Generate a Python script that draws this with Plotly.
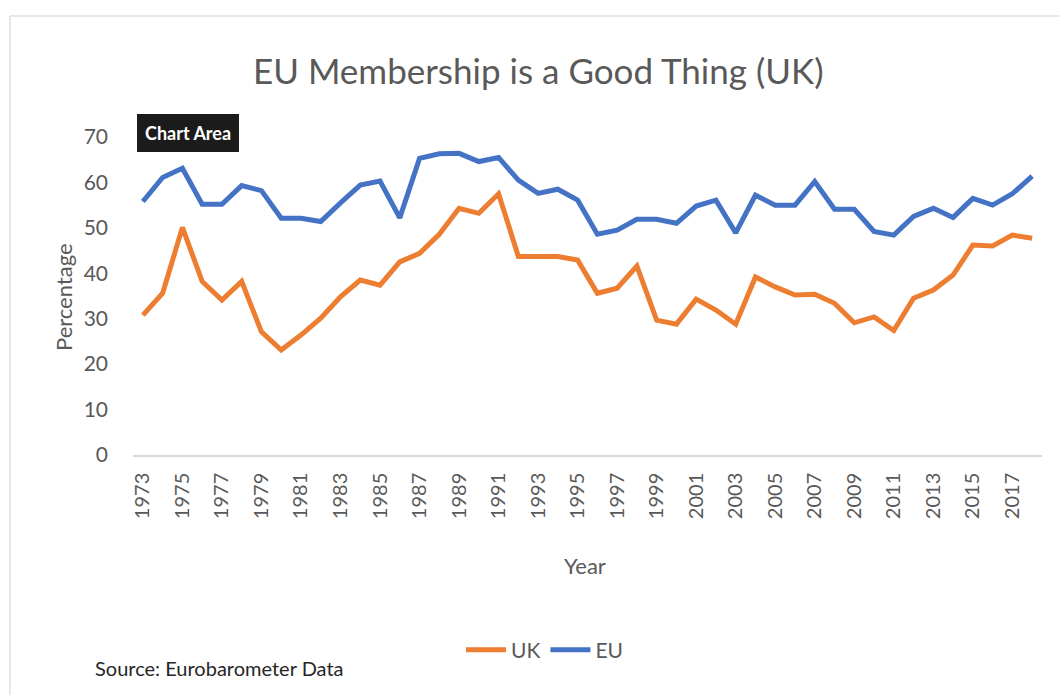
import plotly.graph_objects as go

years = list(range(1973, 2019))
uk = [30.8, 35.6, 50.1, 38.2, 34.1, 38.2, 27.1, 23.1, 26.4, 30.1,
      34.8, 38.5, 37.4, 42.5, 44.4, 48.6, 54.3, 53.2, 57.5, 43.7,
      43.7, 43.7, 42.9, 35.6, 36.7, 41.6, 29.7, 28.8, 34.3, 31.9,
      28.8, 39.2, 37.0, 35.2, 35.4, 33.4, 29.1, 30.4, 27.4, 34.5,
      36.3, 39.6, 46.2, 46.0, 48.4, 47.7]
eu = [55.8, 61.1, 63.1, 55.2, 55.2, 59.3, 58.2, 52.1, 52.1, 51.4,
      55.5, 59.4, 60.3, 52.2, 65.3, 66.3, 66.4, 64.6, 65.5, 60.5,
      57.6, 58.5, 56.1, 48.6, 49.5, 51.9, 51.9, 51.0, 54.8, 56.1,
      48.9, 57.2, 55.0, 55.0, 60.2, 54.1, 54.1, 49.2, 48.4, 52.5,
      54.3, 52.3, 56.5, 55.0, 57.5, 61.4]
x_ticks = list(range(1973, 2019, 2))
y_ticks = [0, 10, 20, 30, 40, 50, 60, 70]

W, H = 1060, 695
L, R, T, B = 133, 1042, 137, 455


def px(x):
    return (x - L) / (R - L)


def py(y):
    return (B - y) / (B - T)


FONT = "Lato"
GRAY = "#595959"

fig = go.Figure()
fig.add_trace(go.Scatter(x=years, y=uk, name="UK", mode="lines",
                         line=dict(color="#ED7D31", width=5)))
fig.add_trace(go.Scatter(x=years, y=eu, name="EU", mode="lines",
                         line=dict(color="#4472C4", width=5)))

fig.update_layout(
    width=W, height=H,
    margin=dict(l=L, r=W - R, t=T, b=H - B, pad=0),
    paper_bgcolor="white", plot_bgcolor="white",
    font=dict(family=FONT, color=GRAY),
    showlegend=True,
    legend=dict(orientation="h", x=px(545), y=py(650), xanchor="center",
                yanchor="middle", font=dict(size=21, color=GRAY),
                itemwidth=40, tracegroupgap=0),
    xaxis=dict(range=[1972.5, 2018.5], tickmode="array", tickvals=x_ticks,
               ticktext=[str(v) for v in x_ticks], tickangle=-90,
               tickfont=dict(size=20, color=GRAY), showgrid=False,
               zeroline=False, showline=True, linecolor="#d9d9d9",
               linewidth=1.5, ticks="", ticklabelstandoff=8),
    yaxis=dict(range=[0, 70], tickmode="array", tickvals=y_ticks,
               tickfont=dict(size=21, color=GRAY), showgrid=False,
               zeroline=False, showline=False, ticks="",
               ticklabelstandoff=24),
)

ann = [
    dict(text="EU Membership is a Good Thing (UK)", x=px(538), y=py(70),
         font=dict(size=35, color=GRAY)),
    dict(text="Percentage", x=px(63), y=py(297), textangle=-90,
         font=dict(size=22, color=GRAY)),
    dict(text="Year", x=px(585), y=py(565), font=dict(size=22, color=GRAY)),
    dict(text="Source: Eurobarometer Data", x=px(93), y=py(668),
         xanchor="left", font=dict(size=20, color="#262626")),
    dict(text="<b>Chart Area</b>", x=px(188), y=py(133),
         font=dict(size=18, color="white"), bgcolor="#1b1b1b",
         borderpad=7, bordercolor="#1b1b1b"),
]
for a in ann:
    a.setdefault("xanchor", "center")
    fig.add_annotation(xref="paper", yref="paper", showarrow=False,
                       yanchor="middle", **a)

fig.add_shape(type="line", xref="paper", yref="paper",
              x0=px(10), x1=px(1060), y0=py(16), y1=py(16),
              line=dict(color="#e0e0e0", width=1.5))
fig.add_shape(type="line", xref="paper", yref="paper",
              x0=px(10), x1=px(10), y0=py(16), y1=py(695),
              line=dict(color="#e0e0e0", width=1.5))

fig.write_html("out.html",
               config={"displayModeBar": False},
               post_script="document.body.style.margin='0';"
                           "document.body.style.overflow='hidden';")
